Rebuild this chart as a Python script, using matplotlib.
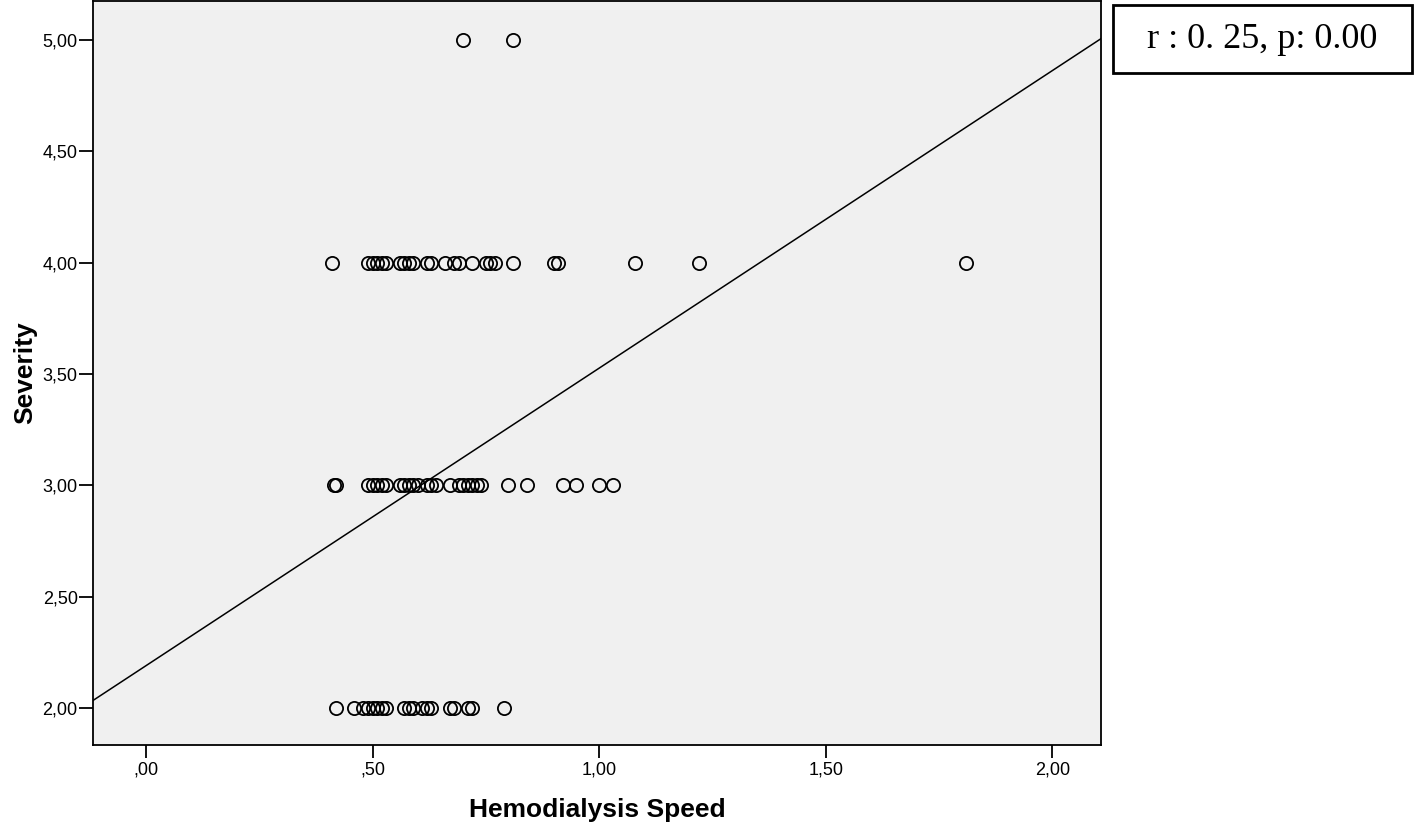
import matplotlib
matplotlib.use("Agg")
import matplotlib.pyplot as plt
import numpy as np
from matplotlib.patches import Rectangle

# ── data ──────────────────────────────────────────────────────────────────────
speed_sev2 = [0.42, 0.46, 0.48, 0.49, 0.50, 0.51, 0.52, 0.53, 0.57, 0.58,
              0.59, 0.61, 0.62, 0.63, 0.67, 0.68, 0.71, 0.72, 0.79]
speed_sev3 = [0.415, 0.42, 0.49, 0.50, 0.51, 0.52, 0.53, 0.56, 0.57, 0.58,
              0.59, 0.60, 0.62, 0.63, 0.64, 0.67, 0.69, 0.70, 0.71, 0.72,
              0.73, 0.74, 0.80, 0.84, 0.92, 0.95, 1.00, 1.03]
speed_sev4 = [0.41, 0.49, 0.50, 0.51, 0.52, 0.53, 0.56, 0.57, 0.58, 0.59,
              0.62, 0.63, 0.66, 0.68, 0.69, 0.72, 0.75, 0.76, 0.77, 0.81,
              0.90, 0.91, 1.08, 1.22, 1.81]
speed_sev5 = [0.70, 0.81]

fit_intercept = 2.19
fit_slope = 1.336

xticks = [0.0, 0.5, 1.0, 1.5, 2.0]
xtick_labels = [",00", ",50", "1,00", "1,50", "2,00"]
yticks = [2.0, 2.5, 3.0, 3.5, 4.0, 4.5, 5.0]
ytick_labels = ["2,00", "2,50", "3,00", "3,50", "4,00", "4,50", "5,00"]
stat_text = "r : 0. 25, p: 0.00"

xs = np.array(speed_sev2 + speed_sev3 + speed_sev4 + speed_sev5)
ys = np.array([2.0] * len(speed_sev2) + [3.0] * len(speed_sev3)
              + [4.0] * len(speed_sev4) + [5.0] * len(speed_sev5))

# ── figure ────────────────────────────────────────────────────────────────────
plt.rcParams["font.family"] = ["Liberation Sans", "DejaVu Sans"]
fig = plt.figure(figsize=(14.19, 8.24), dpi=100, facecolor="white")
ax = fig.add_axes([0.0655, 0.0959, 0.7105, 0.9029])
ax.set_facecolor("#f0f0f0")

ax.set_xlim(-0.117, 2.108)
ax.set_ylim(1.834, 5.175)

ax.plot(xs, ys, linestyle="none", marker="o", markersize=9.5,
        markerfacecolor="none", markeredgecolor="black", markeredgewidth=1.3)

lx = np.array(ax.get_xlim())
ax.plot(lx, fit_intercept + fit_slope * lx, color="black", linewidth=1.1)

ax.set_xticks(xticks)
ax.set_xticklabels(xtick_labels)
ax.set_yticks(yticks)
ax.set_yticklabels(ytick_labels)
ax.tick_params(direction="out", width=1.3, labelsize=13)
ax.tick_params(axis="y", length=10, pad=1)
ax.tick_params(axis="x", length=9, pad=3)
for sp in ax.spines.values():
    sp.set_linewidth(1.3)

ax.set_xlabel("Hemodialysis Speed", fontsize=19, fontweight="bold", labelpad=14)
ax.set_ylabel("Severity", fontsize=19, fontweight="bold", labelpad=4)

# stats box to the right of the plot
fig.patches.append(Rectangle((1113 / 1419, 1 - 73 / 824), 299 / 1419, 68 / 824,
                             transform=fig.transFigure, facecolor="white",
                             edgecolor="black", linewidth=2))
fig.text((1113 + 299 / 2) / 1419, 1 - 40 / 824, stat_text, ha="center", va="center",
         fontsize=26, family=["Liberation Serif", "DejaVu Serif"])

fig.savefig("out.png", dpi=100, facecolor="white")
